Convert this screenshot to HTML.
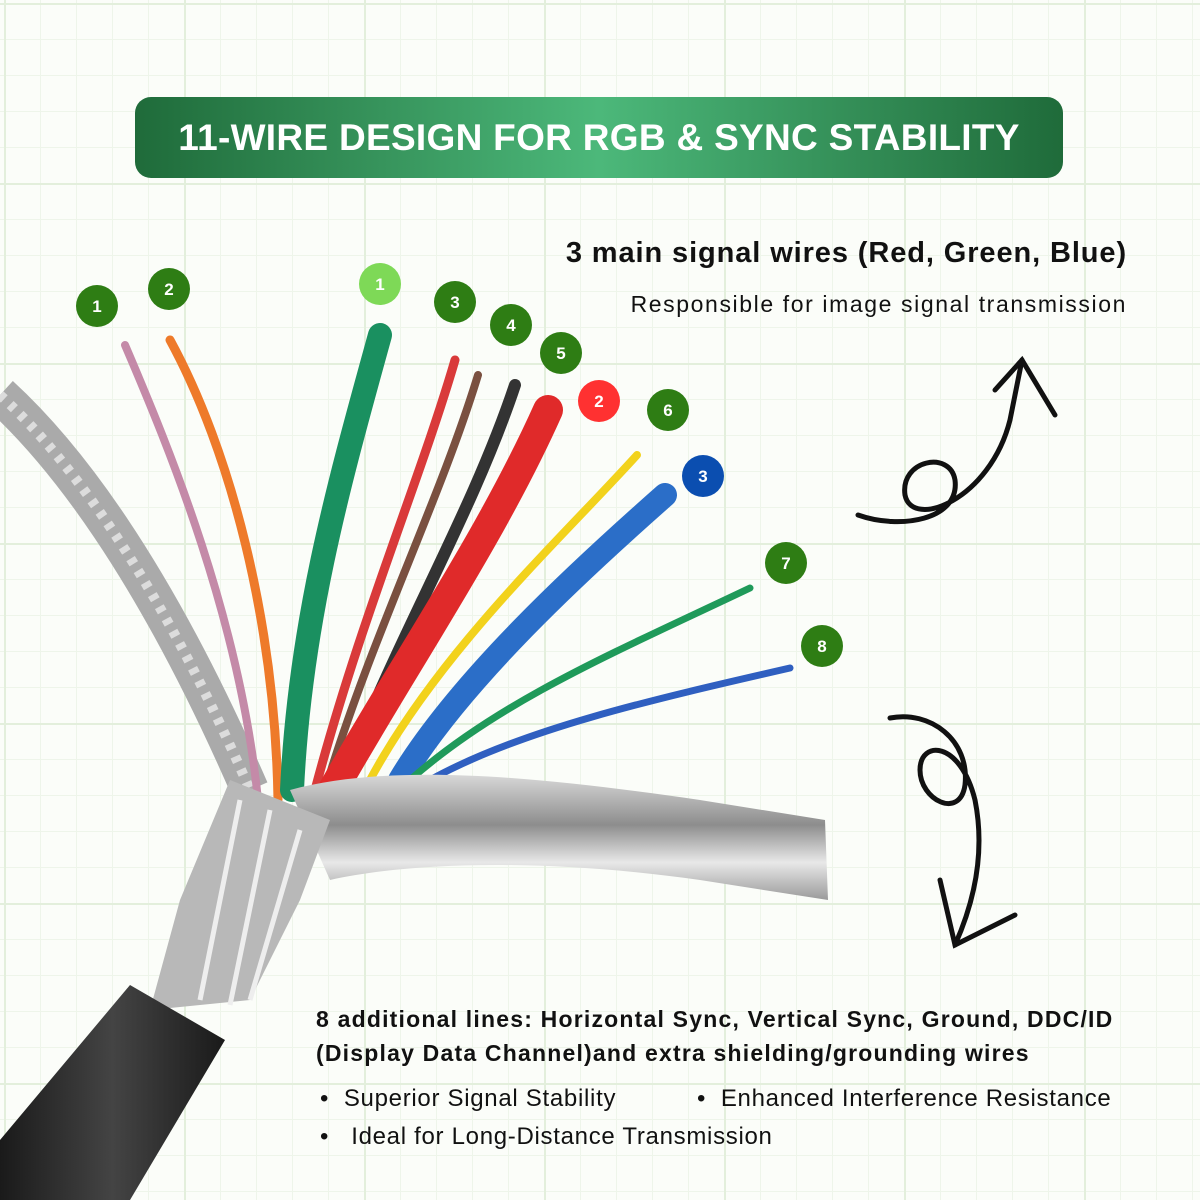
<!DOCTYPE html>
<html><head><meta charset="utf-8"><style>
html,body{margin:0;padding:0}
body{width:1200px;height:1200px;position:relative;overflow:hidden;background:#fbfdf9;font-family:"Liberation Sans",sans-serif;
background-image:linear-gradient(#e3efdc 2px,transparent 2px),linear-gradient(90deg,#e3efdc 2px,transparent 2px),linear-gradient(#eef5ea 1px,transparent 1px),linear-gradient(90deg,#eef5ea 1px,transparent 1px);
background-size:180px 180px,180px 180px,36px 36px,36px 36px;background-position:4px 3px,4px 3px,4px 3px,4px 3px}
.banner{position:absolute;left:135px;top:97px;width:928px;height:81px;border-radius:16px;background:linear-gradient(90deg,#1f6b3a,#4cb87a 50%,#1f6b3a);color:#fff;font-weight:bold;font-size:37px;line-height:81px;text-align:center;letter-spacing:0.3px}
.t{position:absolute;color:#111;white-space:nowrap}
</style></head><body>
<div class="banner">11-WIRE DESIGN FOR RGB &amp; SYNC STABILITY</div>
<div class="t" style="right:73px;top:237px;font-size:29px;font-weight:bold;letter-spacing:0.9px">3 main signal wires (Red, Green, Blue)</div>
<div class="t" style="right:73px;top:291px;font-size:23px;letter-spacing:1.6px">Responsible for image signal transmission</div>
<div class="t" style="left:316px;top:1002px;font-size:23px;font-weight:bold;line-height:34px;letter-spacing:1.2px">8 additional lines: Horizontal Sync, Vertical Sync, Ground, DDC/ID<br>(Display Data Channel)and extra shielding/grounding wires</div>
<div class="t" style="left:320px;top:1085px;font-size:24px;letter-spacing:0.7px">•&nbsp; Superior Signal Stability</div>
<div class="t" style="left:697px;top:1085px;font-size:24px;letter-spacing:0.7px">•&nbsp; Enhanced Interference Resistance</div>
<div class="t" style="left:320px;top:1123px;font-size:24px;letter-spacing:0.7px">•&nbsp;&nbsp; Ideal for Long-Distance Transmission</div>
<svg width="1200" height="1200" style="position:absolute;left:0;top:0">
<defs>
<linearGradient id="foil" x1="0" y1="0" x2="0" y2="1"><stop offset="0" stop-color="#d8d8d8"/><stop offset=".4" stop-color="#8d8d8d"/><stop offset=".7" stop-color="#e8e8e8"/><stop offset="1" stop-color="#9a9a9a"/></linearGradient>
<linearGradient id="jack" x1="0" y1="0" x2="1" y2="0"><stop offset="0" stop-color="#1a1a1a"/><stop offset=".5" stop-color="#444"/><stop offset="1" stop-color="#1a1a1a"/></linearGradient>
</defs>
<path d="M0 395 C60 450 150 560 250 790" stroke="#aaa" stroke-width="38" fill="none"/>
<path d="M0 395 C60 450 150 560 250 790" stroke="#dcdcdc" stroke-width="10" stroke-dasharray="6 8" fill="none"/>
<g fill="none" stroke-linecap="round">
<path d="M125 345 C170 450 240 620 258 800" stroke="#c48aa8" stroke-width="8"/>
<path d="M170 340 C230 450 275 620 278 800" stroke="#ee7a2a" stroke-width="9"/>
<path d="M380 335 C340 480 300 620 292 790" stroke="#1a9060" stroke-width="24"/>
<path d="M455 360 C420 480 360 620 315 790" stroke="#d93a3a" stroke-width="9"/>
<path d="M478 375 C440 500 370 640 325 790" stroke="#7a5040" stroke-width="8"/>
<path d="M515 385 C470 520 390 650 340 790" stroke="#333" stroke-width="12"/>
<path d="M548 410 C490 540 400 670 330 795" stroke="#e02a2a" stroke-width="30"/>
<path d="M637 455 C560 540 440 650 370 780" stroke="#f2d21c" stroke-width="8"/>
<path d="M665 495 C580 570 460 680 400 780" stroke="#2b6ec8" stroke-width="24"/>
<path d="M750 588 C620 650 500 700 410 780" stroke="#1f9a5a" stroke-width="7"/>
<path d="M790 668 C650 700 520 730 430 780" stroke="#2f5fc0" stroke-width="7"/>
</g>
<path d="M290 790 C400 760 560 780 700 800 L825 820 L828 900 L700 880 C560 860 420 860 330 880 Z" fill="url(#foil)"/>
<path d="M230 780 L330 820 L300 900 L250 1000 L150 1010 L180 900 Z" fill="#b8b8b8"/>
<path d="M240 800 L200 1000 M270 810 L230 1005 M300 830 L250 1000" stroke="#eee" stroke-width="5" fill="none"/>
<path d="M130 985 L225 1040 L130 1200 L0 1200 L0 1140 Z" fill="url(#jack)"/>
<g fill="none" stroke="#111" stroke-width="5" stroke-linecap="round">
<path d="M858 515 C900 530 960 520 955 480 C950 450 900 460 905 495 C912 530 990 500 1010 420 L1022 360"/>
<path d="M995 390 L1022 360 L1055 415"/>
<path d="M890 718 C930 710 970 740 965 785 C960 820 920 800 920 770 C920 740 960 740 975 800 C985 850 975 900 955 945"/>
<path d="M940 880 L955 945 L1015 915"/>
</g>
<g font-family="Liberation Sans,sans-serif" font-weight="bold" font-size="17" fill="#fff" text-anchor="middle">
<circle cx="97" cy="306" r="21" fill="#2e7d14"/><text x="97" y="312">1</text>
<circle cx="169" cy="289" r="21" fill="#2e7d14"/><text x="169" y="295">2</text>
<circle cx="380" cy="284" r="21" fill="#7ed957"/><text x="380" y="290">1</text>
<circle cx="455" cy="302" r="21" fill="#2e7d14"/><text x="455" y="308">3</text>
<circle cx="511" cy="325" r="21" fill="#2e7d14"/><text x="511" y="331">4</text>
<circle cx="561" cy="353" r="21" fill="#2e7d14"/><text x="561" y="359">5</text>
<circle cx="599" cy="401" r="21" fill="#ff3131"/><text x="599" y="407">2</text>
<circle cx="668" cy="410" r="21" fill="#2e7d14"/><text x="668" y="416">6</text>
<circle cx="703" cy="476" r="21" fill="#0b4eb0"/><text x="703" y="482">3</text>
<circle cx="786" cy="563" r="21" fill="#2e7d14"/><text x="786" y="569">7</text>
<circle cx="822" cy="646" r="21" fill="#2e7d14"/><text x="822" y="652">8</text>
</g>
</svg>
</body></html>
